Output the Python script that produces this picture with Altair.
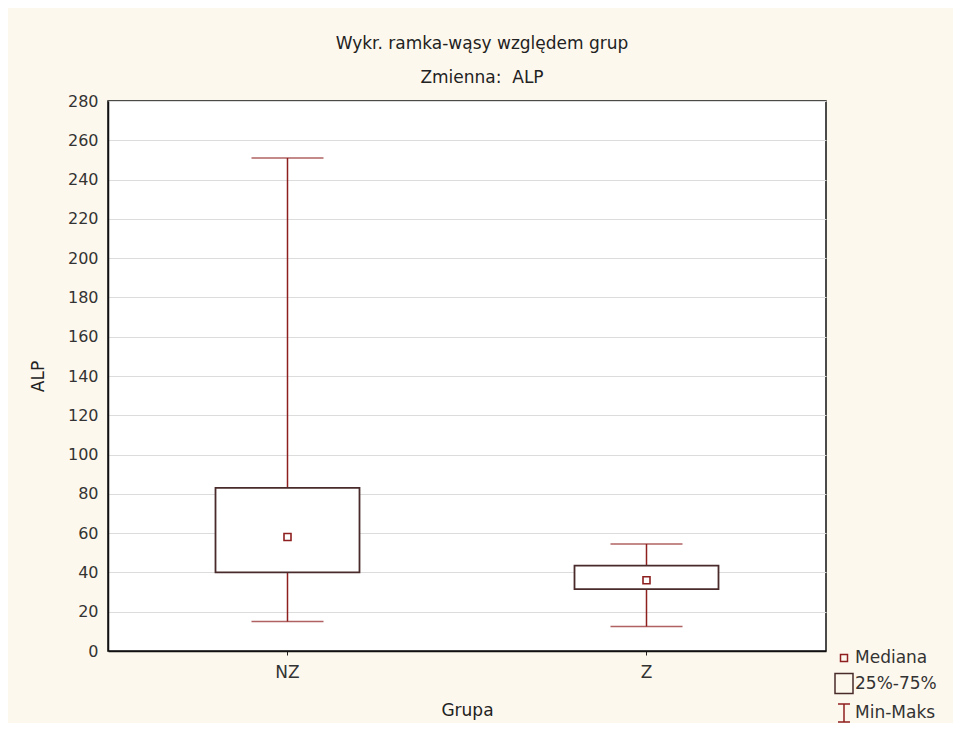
import altair as alt
import pandas as pd

# --- data ---
groups = ["NZ", "Z"]
mins = [15, 12.5]
q1s = [40, 31.5]
medians = [58, 36]
q3s = [83, 43.5]
maxs = [251, 54.5]

legend_items = ["Mediana", "25%-75%", "Min-Maks"]
y_ticks = list(range(0, 281, 20))

df = pd.DataFrame({"Grupa": groups, "min": mins, "q1": q1s, "med": medians,
                   "q3": q3s, "max": maxs})
leg_df = pd.DataFrame({"item": legend_items, "Grupa": ["NZ"] * 3, "v": [0, 0, 0]})

FONT = "DejaVu Sans"
WHISKER = "#8e1f1f"
BOX = "#4a2b2b"

x = alt.X("Grupa:N", title="Grupa",
          scale=alt.Scale(domain=groups, paddingInner=0, paddingOuter=0),
          axis=alt.Axis(labelAngle=0, ticks=True, tickSize=4, tickColor="#222",
                        labelFontSize=17, labelPadding=9, titlePadding=22, grid=False))
y_scale = alt.Scale(domain=[0, 280], nice=False, zero=True)
y_axis = alt.Axis(values=y_ticks, title="ALP", grid=True, gridColor="#dcdcdc",
                  ticks=False, labelPadding=10, titlePadding=20, labelOverlap=False)


def Y(field):
    return alt.Y(field, scale=y_scale, axis=y_axis)


base = alt.Chart(df)

whisker = base.mark_rule(color=WHISKER, strokeWidth=1.5).encode(
    x=x, y=Y("min:Q"), y2="max:Q",
)
box = base.mark_bar(size=144, fill="white", stroke=BOX, strokeWidth=1.8).encode(
    x=x, y=Y("q1:Q"), y2="q3:Q"
)
cap_min = base.mark_tick(size=72, thickness=1.5, color=WHISKER).encode(
    x=x, y=Y("min:Q")
)
cap_max = base.mark_tick(size=72, thickness=1.5, color=WHISKER).encode(
    x=x, y=Y("max:Q")
)
median = base.mark_point(shape="square", size=49, filled=False, color=WHISKER,
                         strokeWidth=1.6, opacity=1).encode(
    x=x, y=Y("med:Q")
)

leg = alt.Legend(title=None, orient="none", legendX=725, legendY=546,
                 symbolSize=400, symbolOpacity=1, symbolStrokeWidth=1.5,
                 symbolFillColor="transparent",
                 labelFont=FONT, labelFontSize=17, labelColor="#333",
                 labelOffset=0, rowPadding=4.5)

legend_layer = alt.Chart(leg_df).mark_point(filled=False, opacity=0, strokeWidth=1.5).encode(
    x=x,
    y=Y("v:Q"),
    shape=alt.Shape("item:N",
                    scale=alt.Scale(domain=legend_items,
                                    range=["M-0.35,-0.35L0.35,-0.35L0.35,0.35L-0.35,0.35Z",
                                           "M-0.9,-1L0.9,-1L0.9,1L-0.9,1Z",
                                           "M-0.6,-0.9L0.6,-0.9M0,-0.9L0,0.9M-0.6,0.9L0.6,0.9"]),
                    legend=leg),
    color=alt.Color("item:N",
                    scale=alt.Scale(domain=legend_items, range=[WHISKER, BOX, WHISKER]),
                    legend=leg),
)

chart = alt.layer(whisker, box, cap_min, cap_max, median, legend_layer).properties(
    width=718,
    height=550,
    autosize=alt.AutoSizeParams(type="none"),
    padding={"left": 100, "top": 93, "right": 127, "bottom": 72},
    background="#fdf8ee",
    title=alt.TitleParams(text=["Wykr. ramka-wąsy względem grup", "Zmienna:\u00a0 ALP"],
                          font=FONT, fontSize=17, fontWeight="normal", color="#222",
                          lineHeight=34, anchor="middle", dx=15, offset=6),
).configure_view(
    fill="white", stroke="#111", strokeWidth=1.5
).configure_axis(
    labelFont=FONT, labelFontSize=16, labelColor="#333",
    titleFont=FONT, titleFontSize=17, titleFontWeight="normal", titleColor="#222",
    domainColor="#111", domainWidth=1.5
)

chart.save("out.html", embed_options={"renderer": "svg", "actions": False})
